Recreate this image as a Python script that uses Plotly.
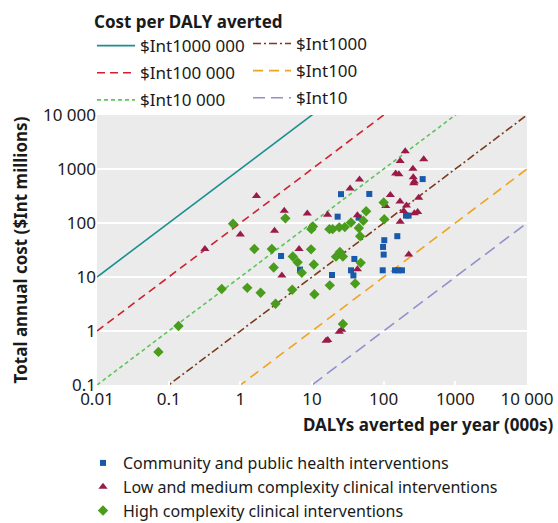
import plotly.graph_objects as go

# ---------------- data ----------------
# Community and public health interventions (DALYs averted 000s, cost $Int millions)
community_x = [3.7, 6.8, 19, 22.8, 25.4, 35, 37.8, 39, 44.8, 63, 97, 98, 100, 102, 144, 155, 160, 180, 205, 223, 350]
community_y = [24.5, 13.7, 10.9, 131, 342, 13.3, 10.7, 21.6, 126, 345, 13.3, 36, 26, 48, 13.3, 57, 13.3, 13.3, 137, 137, 650]

# Low and medium complexity clinical interventions
lowmed_x = [0.32, 1.0, 1.68, 3.0, 4.1, 3.8, 6.6, 8.6, 16.5, 15.7, 16.6, 24, 26, 34, 46, 43, 43,
            107, 124, 147, 163, 170, 200, 169, 170, 256, 259, 268, 263, 362, 308, 208, 190, 268, 298, 224]
lowmed_y = [33, 61, 315, 72, 168, 10.7, 33, 150, 142, 0.66, 0.68, 0.97, 1.06, 437, 640, 139, 13.9,
            207, 330, 825, 797, 1410, 2140, 251, 105, 1014, 705, 585, 543, 1520, 292, 212, 167, 152, 160, 26]

# High complexity clinical interventions
high_x = [0.072, 0.137, 0.55, 0.79, 1.25, 1.57, 1.92, 2.75, 2.92, 3.1, 4.25, 5.4, 5.3, 6.3, 7.2, 9.7,
          10.6, 10.8, 9.8, 10.3, 17.5, 19.4, 17.7, 24, 28.7, 35, 45, 52, 57, 100, 102, 47, 24.5, 21.6,
          27, 47.8, 40, 27]
high_y = [0.41, 1.24, 6.0, 97, 6.3, 33, 5.1, 33, 15, 3.2, 122, 24, 5.8, 18.7, 12, 32.5,
          17, 4.8, 77, 86, 77, 77, 7, 83, 84, 102, 81, 110, 165, 239, 117, 57, 29, 23.8,
          24, 18.3, 7.6, 1.35]

# Cost per DALY averted thresholds ($Int)
threshold_values = [1000000, 1000, 100000, 100, 10000, 10]
threshold_labels = ["$Int1000 000", "$Int1000", "$Int100 000", "$Int100", "$Int10 000", "$Int10"]
line_x = [0.01, 10000]

x_tickvals = [0.01, 0.1, 1, 10, 100, 1000, 10000]
x_ticktext = ["0.01", "0.1", "1", "10", "100", "1000", "10 000"]
y_tickvals = [0.1, 1, 10, 100, 1000, 10000]
y_ticktext = ["0.1", "1", "10", "100", "1000", "10 000"]

# ---------------- styles ----------------
FONT = "Noto Sans"
TXT = "#1a1a1a"
line_styles = {
    1000000: dict(color="#1b8f8e", dash="solid", legend="legend"),
    100000: dict(color="#d0202e", dash="8px,5px", legend="legend"),
    10000: dict(color="#5cc65a", dash="4px,3px", legend="legend"),
    1000: dict(color="#7b3a1a", dash="8px,3px,2px,3px", legend="legend2"),
    100: dict(color="#f0a31f", dash="10px,6px", legend="legend2"),
    10: dict(color="#9090cc", dash="12px,6px", legend="legend2"),
}

fig = go.Figure()

order = [1000000, 100000, 10000, 1000, 100, 10]
for v in order:
    lab = threshold_labels[threshold_values.index(v)]
    st = line_styles[v]
    fig.add_trace(go.Scatter(
        x=line_x, y=[xx * v / 1000.0 for xx in line_x],
        mode="lines", name=lab, legend=st["legend"], legendgroup=lab,
        line=dict(color=st["color"], dash=st["dash"], width=1.6),
        hoverinfo="skip",
    ))

fig.add_trace(go.Scatter(
    x=community_x, y=community_y, mode="markers", name="Community and public health interventions",
    legend="legend3", marker=dict(symbol="square", size=6, color="#1859a9"),
))
fig.add_trace(go.Scatter(
    x=lowmed_x, y=lowmed_y, mode="markers", name="Low and medium complexity clinical interventions",
    legend="legend3", marker=dict(symbol="triangle-up", size=8, color="#9b1b48"),
))
fig.add_trace(go.Scatter(
    x=high_x, y=high_y, mode="markers", name="High complexity clinical interventions",
    legend="legend3", marker=dict(symbol="diamond", size=8, color="#4a9c1c"),
))

PW, PH = 430, 270
L, T = 97, 115

def px_x(p):
    return (p - L) / PW

def px_y(p):
    return 1 + (T - p) / PH

fig.update_layout(
    width=558, height=523,
    margin=dict(l=L, r=558 - L - PW, t=T, b=523 - T - PH, autoexpand=False),
    paper_bgcolor="white", plot_bgcolor="#ebebeb",
    font=dict(family=FONT, size=17, color=TXT),
    showlegend=True,
    legend=dict(
        x=px_x(92), y=px_y(6), xanchor="left", yanchor="top",
        title=dict(text="<b>Cost per DALY averted</b>", font=dict(family=FONT, size=17, color=TXT)),
        font=dict(family=FONT, size=17, color=TXT), bgcolor="rgba(0,0,0,0)",
        tracegroupgap=2, itemwidth=38,
    ),
    legend2=dict(
        x=px_x(248), y=px_y(26), xanchor="left", yanchor="top",
        font=dict(family=FONT, size=17, color=TXT), bgcolor="rgba(0,0,0,0)",
        tracegroupgap=2, itemwidth=38,
    ),
    legend3=dict(
        x=px_x(83), y=px_y(446), xanchor="left", yanchor="top",
        font=dict(family=FONT, size=16, color=TXT), bgcolor="rgba(0,0,0,0)",
    ),
    xaxis=dict(
        type="log", range=[-2, 4], tickvals=x_tickvals, ticktext=x_ticktext,
        showgrid=False, zeroline=False, showline=False,
        ticks="inside", ticklen=4, tickwidth=2, tickcolor="white", ticklabelstandoff=2,
        tickfont=dict(family=FONT, size=17, color=TXT), fixedrange=True,
    ),
    yaxis=dict(
        type="log", range=[-1, 4], tickvals=y_tickvals, ticktext=y_ticktext,
        showgrid=True, gridcolor="white", gridwidth=2, zeroline=False, showline=False,
        ticks="", tickfont=dict(family=FONT, size=17, color=TXT),
        title=dict(text="<b>Total annual cost ($Int millions)</b>", font=dict(family=FONT, size=17, color=TXT), standoff=11),
    ),
    annotations=[dict(
        text="<b>DALYs averted per year (000s)</b>", xref="paper", yref="paper",
        x=px_x(556), y=px_y(424), xanchor="right", yanchor="middle", showarrow=False,
        font=dict(family=FONT, size=17, color=TXT),
    )],
)

fig.write_html("out.html", config={"displayModeBar": False},
               post_script="document.body.style.margin='0';")
